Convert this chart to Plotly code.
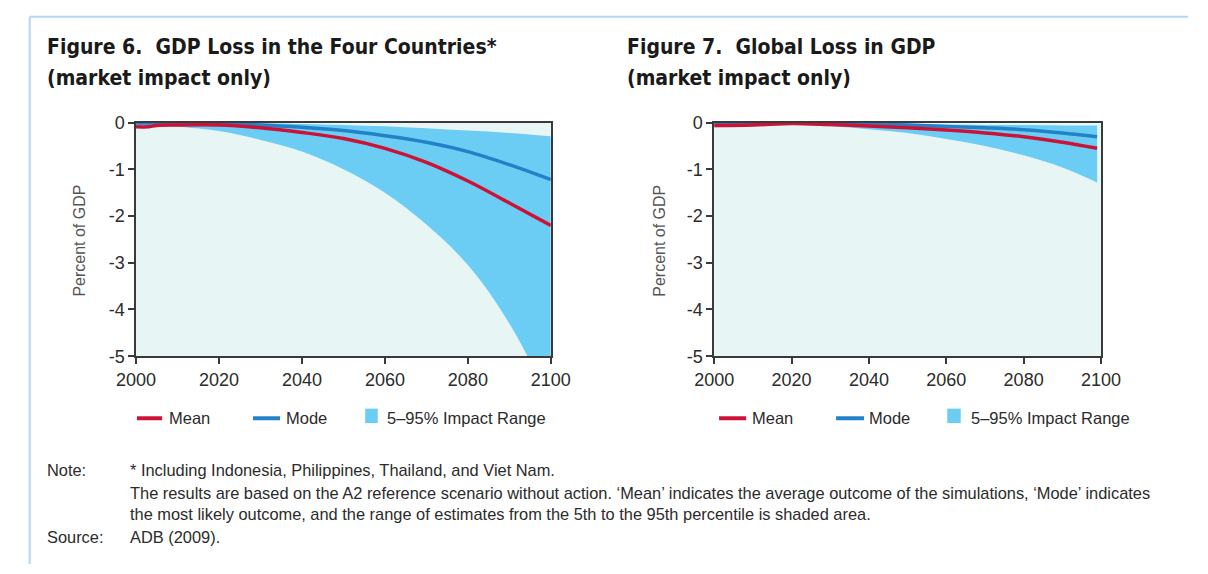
import plotly.graph_objects as go

W, H = 1208, 574

# ---- data: Figure 6 (four countries) ----
years6 = [2000, 2003, 2005, 2010, 2020, 2030, 2040, 2050, 2060, 2070, 2080, 2090, 2100]
low6   = [-0.05, -0.06, -0.07, -0.09, -0.18, -0.37, -0.62, -1.0, -1.5, -2.18, -3.05, -4.3, -6.0]
high6  = [0.0, 0.0, 0.0, 0.0, 0.0, -0.01, -0.03, -0.05, -0.08, -0.12, -0.17, -0.22, -0.29]
mean6  = [-0.09, -0.09, -0.06, -0.05, -0.05, -0.11, -0.21, -0.34, -0.55, -0.85, -1.25, -1.72, -2.2]
mode6  = [0.0, -0.01, -0.01, -0.02, -0.03, -0.05, -0.1, -0.17, -0.28, -0.42, -0.62, -0.9, -1.22]

# ---- data: Figure 7 (global) ----
years7 = [2000, 2010, 2020, 2030, 2040, 2050, 2060, 2070, 2080, 2090, 2099]
low7   = [-0.1, -0.08, -0.05, -0.08, -0.14, -0.22, -0.35, -0.5, -0.7, -0.96, -1.28]
high7  = [0.0, 0.0, 0.0, 0.0, 0.0, -0.02, -0.04, -0.05, -0.05, -0.06, -0.06]
mean7  = [-0.06, -0.05, -0.02, -0.04, -0.07, -0.11, -0.16, -0.22, -0.3, -0.42, -0.55]
mode7  = [-0.03, -0.02, 0.0, -0.01, -0.03, -0.05, -0.08, -0.11, -0.15, -0.22, -0.3]

x_ticks = [2000, 2020, 2040, 2060, 2080, 2100]
y_ticks = [0, -1, -2, -3, -4, -5]
y_tick_text = ["0", "-1", "-2", "-3", "-4", "-5"]

titles = [["Figure 6.  GDP Loss in the Four Countries*", "(market impact only)"],
          ["Figure 7.  Global Loss in GDP", "(market impact only)"]]
legend_labels = ["Mean", "Mode", "5–95% Impact Range"]
y_title = "Percent of GDP"
note_label = "Note:"
note_lines = ["* Including Indonesia, Philippines, Thailand, and Viet Nam.",
              "The results are based on the A2 reference scenario without action. ‘Mean’ indicates the average outcome of the simulations, ‘Mode’ indicates",
              "the most likely outcome, and the range of estimates from the 5th to the 95th percentile is shaded area."]
source_label = "Source:"
source_text = "ADB (2009)."

RED = "#CC1236"
BLUE = "#2381C8"
BAND = "#6CCDF4"
BG = "#E8F5F5"
AXIS = "#3a3a3a"
TXT = "#2b2b2b"

TITLE_FONT = "DejaVu Sans Condensed, Liberation Sans, Arial, sans-serif"
BODY_FONT = "Liberation Sans, Arial, sans-serif"

def px(x):
    return x / W

def py(y):
    return 1 - y / H

fig = go.Figure()

panels = [
    dict(years=years6, low=low6, high=high6, mean=mean6, mode=mode6, xa="x", ya="y"),
    dict(years=years7, low=low7, high=high7, mean=mean7, mode=mode7, xa="x2", ya="y2"),
]

for p in panels:
    fig.add_trace(go.Scatter(x=p["years"], y=p["low"], mode="lines",
                             line=dict(width=0, color=BAND, shape="spline"),
                             xaxis=p["xa"], yaxis=p["ya"], showlegend=False, hoverinfo="skip"))
    fig.add_trace(go.Scatter(x=p["years"], y=p["high"], mode="lines",
                             line=dict(width=0, color=BAND, shape="spline"),
                             fill="tonexty", fillcolor=BAND,
                             xaxis=p["xa"], yaxis=p["ya"], showlegend=False, hoverinfo="skip"))
    fig.add_trace(go.Scatter(x=p["years"], y=p["mode"], mode="lines",
                             line=dict(width=3.5, color=BLUE, shape="spline"),
                             xaxis=p["xa"], yaxis=p["ya"], showlegend=False))
    fig.add_trace(go.Scatter(x=p["years"], y=p["mean"], mode="lines",
                             line=dict(width=3.5, color=RED, shape="spline"),
                             xaxis=p["xa"], yaxis=p["ya"], showlegend=False))

y_dom = [py(358.7), py(116.7)]
axis_common = dict(showline=True, linecolor=AXIS, linewidth=1.5, mirror=True, ticks="outside",
                   ticklen=6, tickcolor=AXIS, tickwidth=1.5, showgrid=False, zeroline=False,
                   tickfont=dict(family=BODY_FONT, size=18, color=TXT))

fig.update_layout(
    width=W, height=H, margin=dict(l=0, r=0, t=0, b=0, pad=0),
    paper_bgcolor="white", plot_bgcolor=BG, showlegend=False,
    xaxis=dict(domain=[px(120), px(549)], range=[2000, 2100], tickvals=x_ticks, anchor="y", **axis_common),
    yaxis=dict(domain=y_dom, range=[-5, 0], tickvals=y_ticks, ticktext=y_tick_text, anchor="x", **axis_common),
    xaxis2=dict(domain=[px(718), px(1118)], range=[2000, 2100], tickvals=x_ticks, anchor="y2", **axis_common),
    yaxis2=dict(domain=y_dom, range=[-5, 0], tickvals=y_ticks, ticktext=y_tick_text, anchor="x2", **axis_common),
)

ann = []
shapes = []

# frame border (top and left)
shapes.append(dict(type="line", xref="paper", yref="paper", x0=px(10), x1=1, y0=py(7), y1=py(7),
                   line=dict(color="#B5D6F0", width=2)))
shapes.append(dict(type="line", xref="paper", yref="paper", x0=px(10), x1=px(10), y0=py(7), y1=0,
                   line=dict(color="#B5D6F0", width=2)))

title_x = [26, 626]
for tx, (l1, l2) in zip(title_x, titles):
    for yy, txt in [(38, l1), (70, l2)]:
        ann.append(dict(text="<b>%s</b>" % txt, x=px(tx), y=py(yy), xref="paper", yref="paper",
                        xanchor="left", yanchor="middle", showarrow=False,
                        font=dict(family=TITLE_FONT, size=21, color="#1a1a1a")))

# y-axis titles
for yx in [62, 662]:
    ann.append(dict(text=y_title, x=px(yx), y=py(239), xref="paper", yref="paper",
                    xanchor="center", yanchor="middle", textangle=-90, showarrow=False,
                    font=dict(family=BODY_FONT, size=16, color="#555555")))

# legends
leg_pos = [dict(red=(121, 147), mean=152, blue=(241, 269), mode=273, sq=(357, 370), rng=377),
           dict(red=(723, 751), mean=755, blue=(844, 873), mode=876, sq=(959, 973), rng=981)]
ly = 423
for lp in leg_pos:
    shapes.append(dict(type="line", xref="paper", yref="paper", x0=px(lp["red"][0]), x1=px(lp["red"][1]),
                       y0=py(ly), y1=py(ly), line=dict(color=RED, width=4)))
    shapes.append(dict(type="line", xref="paper", yref="paper", x0=px(lp["blue"][0]), x1=px(lp["blue"][1]),
                       y0=py(ly), y1=py(ly), line=dict(color=BLUE, width=4)))
    shapes.append(dict(type="rect", xref="paper", yref="paper", x0=px(lp["sq"][0]), x1=px(lp["sq"][1]),
                       y0=py(428), y1=py(413), fillcolor=BAND, line=dict(width=0)))
    for key, lab in zip(["mean", "mode", "rng"], legend_labels):
        ann.append(dict(text=lab, x=px(lp[key]), y=py(ly), xref="paper", yref="paper",
                        xanchor="left", yanchor="middle", showarrow=False,
                        font=dict(family=BODY_FONT, size=16.5, color=TXT)))

# notes
note_font = dict(family=BODY_FONT, size=16.4, color=TXT)
note_y = [477, 500, 522]
ann.append(dict(text=note_label, x=px(26), y=py(477), xref="paper", yref="paper", xanchor="left",
                yanchor="middle", showarrow=False, font=note_font))
for yy, line in zip(note_y, note_lines):
    ann.append(dict(text=line, x=px(112), y=py(yy), xref="paper", yref="paper", xanchor="left",
                    yanchor="middle", showarrow=False, font=note_font))
ann.append(dict(text=source_label, x=px(26), y=py(546), xref="paper", yref="paper", xanchor="left",
                yanchor="middle", showarrow=False, font=note_font))
ann.append(dict(text=source_text, x=px(112), y=py(546), xref="paper", yref="paper", xanchor="left",
                yanchor="middle", showarrow=False, font=note_font))

fig.update_layout(annotations=ann, shapes=shapes)
fig.write_html("out.html", config={"displayModeBar": False},
               post_script="document.body.style.margin='0px';document.documentElement.style.overflow='hidden';document.body.style.overflow='hidden';")
